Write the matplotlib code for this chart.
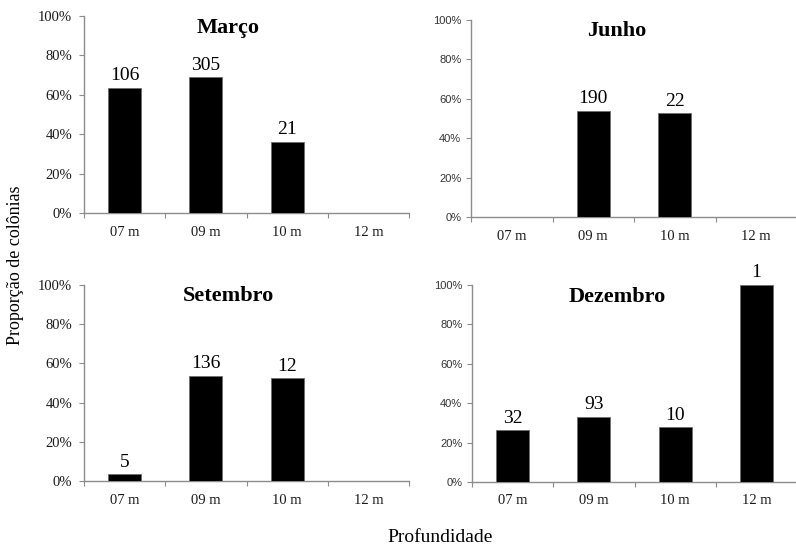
import matplotlib
matplotlib.use("Agg")
import matplotlib.pyplot as plt
from matplotlib.ticker import FuncFormatter, FixedLocator

# Depth classes and per-month proportions (%) with colony counts
depths = ["07 m", "09 m", "10 m", "12 m"]

months = ["Março", "Junho", "Setembro", "Dezembro"]

marco_pct = [63.6, 68.9, 36.0, None]
marco_n = [106, 305, 21, None]

junho_pct = [None, 54.0, 52.6, None]
junho_n = [None, 190, 22, None]

setembro_pct = [3.4, 53.7, 52.4, None]
setembro_n = [5, 136, 12, None]

dezembro_pct = [26.2, 33.0, 27.7, 100.0]
dezembro_n = [32, 93, 10, 1]

yticks = [0, 20, 40, 60, 80, 100]

SERIF = "Liberation Serif"
SANS = "Liberation Sans"
AXIS_GRAY = "#8c8c8c"

W, H = 796, 545
fig = plt.figure(figsize=(W / 100, H / 100), dpi=100)


def px_axes(x0, x1, ytop, ybot):
    return fig.add_axes([x0 / W, 1 - ybot / H, (x1 - x0) / W, (ybot - ytop) / H])


panels = [
    # (axes, title, pct, counts, ytick font, ytick size, title x, title y)
    (px_axes(84, 409, 16, 213), months[0], marco_pct, marco_n, SERIF, 10.5, 0.443, 0.914),
    (px_axes(471, 797, 20, 217), months[1], junho_pct, junho_n, SANS, 8, 0.448, 0.918),
    (px_axes(84, 409, 285, 481), months[2], setembro_pct, setembro_n, SERIF, 10.5, 0.443, 0.918),
    (px_axes(472, 797, 285, 482), months[3], dezembro_pct, dezembro_n, SANS, 8, 0.446, 0.915),
]

for ax, title, pct, counts, yfont, ysize, tx, ty in panels:
    xs = [i for i, v in enumerate(pct) if v is not None]
    vals = [pct[i] for i in xs]
    ax.bar(xs, vals, width=0.405, color="black", edgecolor="#6e6e6e", linewidth=0.6, zorder=3)
    for i in xs:
        ax.annotate(str(counts[i]), (i, pct[i]), xytext=(0, 5.5), textcoords="offset points",
                    ha="center", va="baseline", fontsize=14, family=SERIF, color="black",
                    annotation_clip=False)

    ax.set_xlim(-0.5, 3.5)
    ax.set_ylim(0, 100)
    ax.set_yticks(yticks)
    ax.yaxis.set_major_formatter(FuncFormatter(lambda v, p: f"{v:.0f}%"))

    ax.set_xticks(range(len(depths)))
    ax.set_xticklabels(depths, family=SERIF, fontsize=10.5, color="#1a1a1a")
    ax.xaxis.set_minor_locator(FixedLocator([-0.5, 0.5, 1.5, 2.5, 3.5]))
    ax.tick_params(axis="x", which="major", length=0, pad=9)
    ax.tick_params(axis="x", which="minor", length=3.5, width=0.8, color=AXIS_GRAY, direction="out")
    ax.tick_params(axis="y", length=3.5, width=0.8, color=AXIS_GRAY, direction="out",
                   pad=5 if yfont == SERIF else 3.5)
    for lab in ax.get_yticklabels():
        lab.set_family(yfont)
        lab.set_fontsize(ysize)
        lab.set_color("#1a1a1a" if yfont == SERIF else "#333333")

    for side in ("top", "right"):
        ax.spines[side].set_visible(False)
    for side in ("left", "bottom"):
        ax.spines[side].set_color(AXIS_GRAY)
        ax.spines[side].set_linewidth(1.0)

    ax.text(tx, ty, title, transform=ax.transAxes, ha="center", va="baseline",
            fontsize=16, fontweight="bold", family=SERIF, color="black")

fig.text(16 / W, 1 - 265 / H, "Proporção de colônias", rotation=90, ha="center", va="center",
         fontsize=13, family=SERIF, color="black")
fig.text(440 / W, 1 - 538 / H, "Profundidade", ha="center", va="center",
         fontsize=14, family=SERIF, color="black")

fig.savefig("out.png", dpi=100)
